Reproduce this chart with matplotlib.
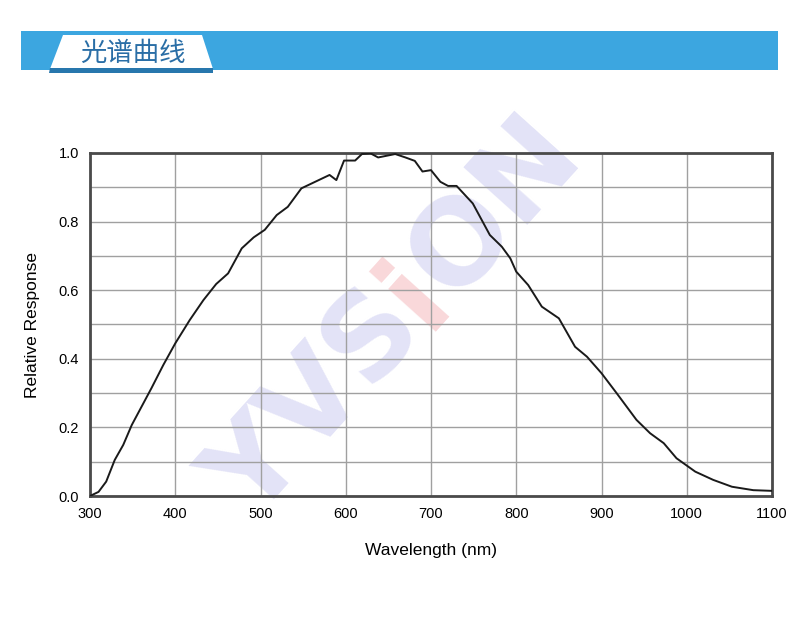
import math
import matplotlib
matplotlib.use("Agg")
import matplotlib.pyplot as plt
from matplotlib.patches import Polygon, Rectangle
from matplotlib.transforms import IdentityTransform

# ---- data ----
wavelength = [300, 310, 319, 329, 339, 349, 372, 386, 400, 417, 433, 448, 462, 478,
              492, 505, 519, 532, 548, 581, 589, 598, 611, 619, 629, 638, 658, 670,
              681, 690, 700, 711, 720, 730, 749, 769, 783, 793, 800, 814, 830, 850,
              869, 883, 900, 918, 941, 957, 973, 988, 1010, 1031, 1053, 1078, 1100]
response = [0.0, 0.012, 0.042, 0.105, 0.149, 0.207, 0.314, 0.382, 0.445, 0.513, 0.571,
            0.618, 0.649, 0.722, 0.754, 0.776, 0.819, 0.843, 0.897, 0.936, 0.921, 0.978,
            0.978, 0.997, 0.999, 0.987, 0.997, 0.987, 0.977, 0.946, 0.950, 0.916, 0.904,
            0.904, 0.853, 0.761, 0.727, 0.693, 0.654, 0.615, 0.552, 0.518, 0.435, 0.406,
            0.358, 0.299, 0.222, 0.183, 0.154, 0.110, 0.071, 0.047, 0.027, 0.017, 0.015]
x_ticks = [300, 400, 500, 600, 700, 800, 900, 1000, 1100]
y_ticks = [0.0, 0.2, 0.4, 0.6, 0.8, 1.0]
title_text = "光谱曲线"
x_label = "Wavelength (nm)"
y_label = "Relative Response"
watermark_parts = ["YVS", "i", "ON"]
watermark_colors = ["#e3e3f7", "#f9d8da", "#e3e3f7"]

W, H = 800, 633
fig = plt.figure(figsize=(W / 100, H / 100), dpi=100)
fig.patch.set_facecolor("white")

def fx(px):
    return px / W

def fy(py):
    return 1 - py / H

# ---- header ----
fig.add_artist(Rectangle((fx(21), fy(70)), fx(778) - fx(21), fy(31) - fy(70),
                         transform=fig.transFigure, facecolor="#3ca6e0", edgecolor="none"))
fig.add_artist(Polygon([(fx(63), fy(35)), (fx(202), fy(35)), (fx(213), fy(69)), (fx(50), fy(69))],
                       closed=True, transform=fig.transFigure, facecolor="white", edgecolor="none"))
fig.add_artist(Polygon([(fx(50), fy(68)), (fx(213), fy(68)), (fx(213), fy(73)), (fx(49), fy(73))],
                       closed=True, transform=fig.transFigure, facecolor="#2877ad", edgecolor="none"))
fig.text(fx(133), fy(53), title_text, ha="center", va="center", fontsize=19,
         color="#2a6ea6", family=["Noto Sans CJK SC", "DejaVu Sans"])

# ---- axes ----
ax = fig.add_axes([fx(90), fy(496), fx(772) - fx(90), fy(153) - fy(496)])
ax.set_xlim(300, 1100)
ax.set_ylim(0, 1.0)

# watermark, letter groups placed along a rotated baseline (display pixels)
renderer = fig.canvas.get_renderer()
wm_size = 84
angle = 48
widths = []
for part in watermark_parts:
    t = fig.text(0, 0, part, fontsize=wm_size, fontweight="bold", family="DejaVu Sans")
    widths.append(t.get_window_extent(renderer).width)
    t.remove()
total = sum(widths)
cx, cy = 395, H - 318
dx, dy = math.cos(math.radians(angle)), math.sin(math.radians(angle))
offset = -total / 2
for part, w, col in zip(watermark_parts, widths, watermark_colors):
    px, py = cx + offset * dx, cy + offset * dy
    ax.text(px, py, part, transform=IdentityTransform(), ha="left", va="center",
            rotation=angle, rotation_mode="anchor", fontsize=wm_size, fontweight="bold",
            color=col, family="DejaVu Sans", zorder=0, clip_on=False)
    offset += w

ax.set_xticks(x_ticks)
ax.set_yticks(y_ticks)
ax.set_yticks([i / 10 for i in range(11)], minor=True)
ax.grid(True, which="major", color="#a0a0a0", linewidth=1.0, zorder=1)
ax.grid(True, which="minor", axis="y", color="#a0a0a0", linewidth=1.0, zorder=1)
ax.tick_params(which="both", length=0, labelsize=10.5, pad=8)
ax.set_xticklabels([str(t) for t in x_ticks], family="Liberation Sans")
ax.set_yticklabels([f"{t:.1f}" for t in y_ticks], family="Liberation Sans")
for sp in ax.spines.values():
    sp.set_color("#4a4a4a")
    sp.set_linewidth(2)

ax.plot(wavelength, response, color="#1a1a1a", linewidth=1.4, zorder=3)

ax.set_xlabel(x_label, fontsize=12.5, family="Liberation Sans", labelpad=16)
ax.set_ylabel(y_label, fontsize=12.5, family="Liberation Sans", labelpad=13)

fig.savefig("out.png", dpi=100, facecolor="white")
